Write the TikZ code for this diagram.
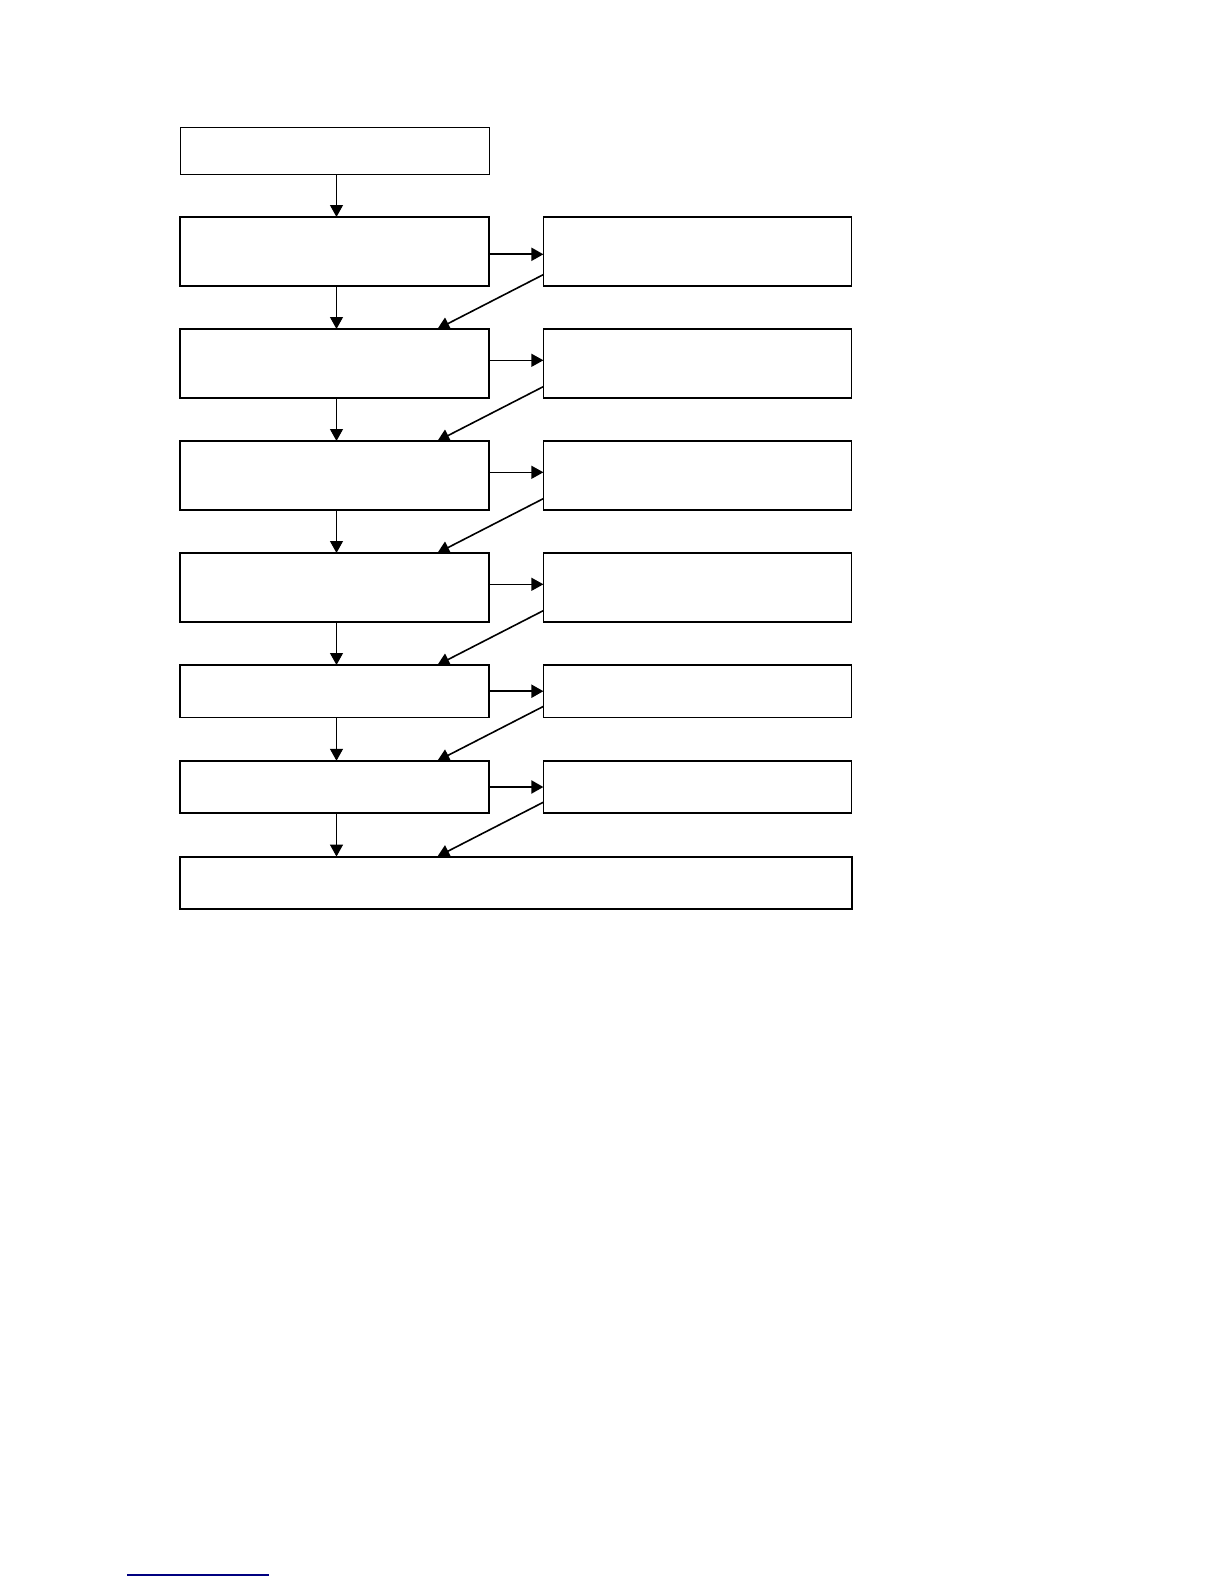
\documentclass[tikz,border=0pt]{standalone}
\usepackage{tikz}
\usetikzlibrary{arrows.meta, positioning}

\begin{document}
\begin{tikzpicture}[
    stepbox/.style={rectangle, draw, line width=0.9pt, minimum height=34.3pt, minimum width=154.5pt, inner sep=0pt, outer sep=0pt},
    shortbox/.style={stepbox, minimum height=26.2pt},
    startbox/.style={stepbox, line width=0.5pt, minimum height=23pt},
    arrow/.style={-{Triangle[length=6pt, width=6.5pt]}, line width=0.6pt},
    thick arrow/.style={arrow, line width=1pt},
    node distance=21.7pt and 27.2pt
]
\useasboundingbox (0,0) rectangle (612pt,-792pt);

% Left column
\node[startbox, anchor=north west] (start) at (90pt,-64pt) {};
\node[stepbox, below=21.5pt of start] (l1) {};
\node[stepbox, below=of l1] (l2) {};
\node[stepbox, below=of l2] (l3) {};
\node[stepbox, below=of l3] (l4) {};
\node[shortbox, below=of l4] (l5) {};
\node[shortbox, below=of l5] (l6) {};

% Right column
\node[stepbox, minimum width=154pt, right=of l1] (r1) {};
\node[stepbox, minimum width=154pt, right=of l2] (r2) {};
\node[stepbox, minimum width=154pt, right=of l3] (r3) {};
\node[stepbox, minimum width=154pt, right=of l4] (r4) {};
\node[shortbox, minimum width=154pt, right=of l5] (r5) {};
\node[shortbox, minimum width=154pt, right=of l6] (r6) {};

% Bottom box
\node[shortbox, minimum width=335.8pt, below=of l6.south west, anchor=north west] (final) {};

% Downward arrows
\draw[arrow] ([xshift=1pt]start.south) -- ([xshift=1pt]l1.north);
\foreach \a/\b in {l1/l2, l2/l3, l3/l4, l4/l5, l5/l6}
    \draw[arrow] ([xshift=1pt]\a.south) -- ([xshift=1pt]\b.north);
\draw[arrow] ([xshift=1pt]l6.south) -- ([xshift=1pt]l6.south |- final.north);

% Side arrows and returns
\foreach \i/\j/\w/\s in {1/2/thick arrow/-1.5pt, 2/3/arrow/1.5pt, 3/4/arrow/1.5pt, 4/5/arrow/1.5pt, 5/6/thick arrow/0pt} {
    \draw[\w] ([yshift=\s]l\i.east) -- ([yshift=\s]r\i.west);
    \draw[arrow, line width=0.8pt] ([yshift=5.5pt]r\i.south west) -- ([xshift=-25.8pt]l\j.north east);
}
\draw[thick arrow] (l6.east) -- (r6.west);
\draw[arrow, line width=0.8pt] ([yshift=5.5pt]r6.south west) -- ([xshift=-25.8pt]l6.north east |- final.north);

% Rule at the foot of the page
\draw[line width=0.7pt, blue!50!black] (63.5pt,-787.5pt) -- (134.5pt,-787.5pt);

\end{tikzpicture}
\end{document}
